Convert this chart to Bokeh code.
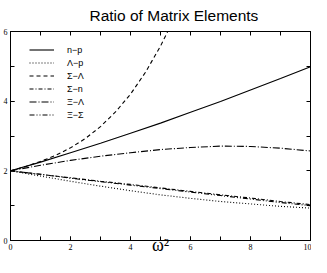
from bokeh.plotting import figure
from bokeh.models import Range1d, LinearAxis, SingleIntervalTicker, FixedTicker, Legend, LegendItem
from bokeh.embed import file_html
from bokeh.resources import INLINE

title_text = "Ratio of Matrix Elements"
x_label = "ω²"
series_labels = ["n−p", "Λ−p", "Σ−Λ", "Σ−n", "Ξ−Λ", "Ξ−Σ"]
frame_ticks = [0, 1, 2, 3, 4, 5, 6, 7, 8, 9, 10]

omega2 = [0, 1, 2, 3, 4, 5, 6, 7, 8, 9, 10]
n_p = [2.00, 2.25, 2.52, 2.79, 3.08, 3.37, 3.68, 3.99, 4.32, 4.65, 4.99]
lambda_p = [2.00, 1.85, 1.70, 1.56, 1.43, 1.31, 1.21, 1.12, 1.05, 0.98, 0.93]
sigma_n = [2.00, 1.90, 1.80, 1.70, 1.61, 1.51, 1.41, 1.31, 1.22, 1.12, 1.03]
xi_lambda = [2.00, 2.16, 2.30, 2.42, 2.52, 2.61, 2.67, 2.71, 2.70, 2.65, 2.57]
xi_sigma = [2.00, 1.90, 1.79, 1.69, 1.59, 1.49, 1.39, 1.29, 1.19, 1.09, 1.00]
omega2_half = [0, 0.5, 1, 1.5, 2, 2.5, 3, 3.5, 4, 4.5, 5, 5.5]
sigma_lambda = [2.00, 2.12, 2.27, 2.44, 2.66, 2.93, 3.27, 3.69, 4.20, 4.83, 5.58, 6.45]

p = figure(width=311, height=257, output_backend="svg", toolbar_location=None,
           x_range=Range1d(0, 10), y_range=Range1d(0, 6),
           x_axis_location=None, y_axis_location=None,
           min_border_left=8, min_border_right=1, min_border_top=31, min_border_bottom=17)
p.grid.visible = False
p.outline_line_color = "black"
p.outline_line_width = 1
p.background_fill_color = "white"
p.border_fill_color = "white"

p.title.text = title_text
p.title.text_font = "Liberation Sans"
p.title.text_font_size = "15.5px"
p.title.text_font_style = "normal"
p.title.text_color = "black"
p.title.align = "left"
p.title.vertical_align = "top"
p.title.offset = 79
p.title.standoff = 11


def style_ticks(ax):
    ax.major_tick_in = 4
    ax.major_tick_out = 0
    ax.minor_tick_in = 4
    ax.minor_tick_out = 0
    ax.axis_line_color = "black"
    ax.major_tick_line_color = "black"
    ax.minor_tick_line_color = "black"


def labelled_axis():
    ax = LinearAxis(ticker=SingleIntervalTicker(interval=2, num_minor_ticks=2))
    style_ticks(ax)
    ax.major_label_text_font = "Liberation Serif"
    ax.major_label_text_font_size = "8px"
    ax.major_label_text_color = "black"
    ax.major_label_standoff = 3
    return ax


def tick_only_axis():
    ax = LinearAxis(ticker=FixedTicker(ticks=[], minor_ticks=frame_ticks))
    style_ticks(ax)
    ax.major_label_standoff = 0
    return ax


bottom = labelled_axis()
bottom.axis_label = x_label
bottom.axis_label_text_font = "Liberation Serif"
bottom.axis_label_text_font_size = "18px"
bottom.axis_label_text_font_style = "normal"
bottom.axis_label_text_color = "black"
bottom.axis_label_standoff = -18
p.add_layout(bottom, "below")
p.add_layout(labelled_axis(), "left")
p.add_layout(tick_only_axis(), "above")
p.add_layout(tick_only_axis(), "right")

lw = 1.1
r1 = p.line(omega2, n_p, line_color="black", line_width=lw)
r2 = p.line(omega2, lambda_p, line_color="black", line_width=lw, line_dash="1 2")
r3 = p.line(omega2_half, sigma_lambda, line_color="black", line_width=lw, line_dash="4 3")
r4 = p.line(omega2, sigma_n, line_color="black", line_width=lw, line_dash="4 2 1 2")
r5 = p.line(omega2, xi_lambda, line_color="black", line_width=lw, line_dash="7 2 1 2")
r6 = p.line(omega2, xi_sigma, line_color="black", line_width=lw, line_dash="5 2 1 2 1 2")

legend = Legend(items=[LegendItem(label=l, renderers=[r]) for l, r in
                       zip(series_labels, [r1, r2, r3, r4, r5, r6])],
                location=(19, 119))
legend.border_line_color = None
legend.background_fill_alpha = 0
legend.padding = 0
legend.margin = 0
legend.spacing = 0
legend.glyph_width = 25
legend.glyph_height = 13
legend.label_height = 13
legend.label_standoff = 13
legend.label_text_font = "Liberation Sans"
legend.label_text_font_size = "9px"
legend.label_text_color = "black"
legend.label_text_line_height = 1.0
p.add_layout(legend)

open("out.html", "w").write(file_html(p, INLINE))
